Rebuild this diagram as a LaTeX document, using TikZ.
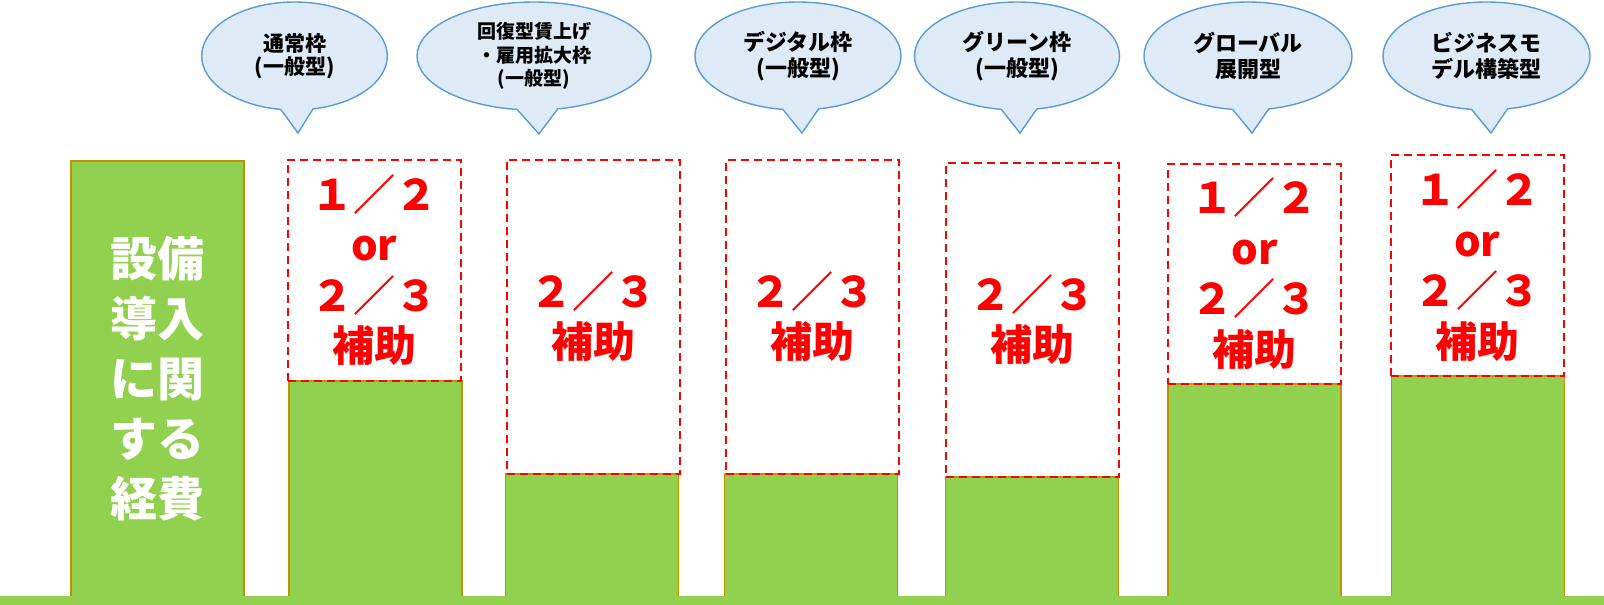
\documentclass[tikz,border=0pt]{standalone}
\usepackage{fontspec}
\newfontfamily\jp{Noto Sans CJK JP}
\usetikzlibrary{shapes.callouts}
\definecolor{barfill}{HTML}{92D050}
\definecolor{barline}{HTML}{BF9000}
\definecolor{bubfill}{HTML}{DEEBF7}
\definecolor{bubline}{HTML}{5B9BD5}
\definecolor{redzero}{HTML}{FF0000}
\begin{document}
\begin{tikzpicture}[x=1pt,y=-1pt,
  bar/.style={fill=barfill,draw=barline,line width=1.8pt,inner sep=0pt,outer sep=0pt,anchor=north west},
  ratebox/.style={draw=redzero,line width=2pt,dash pattern=on 8pt off 5pt,inner sep=0pt,outer sep=0pt,anchor=north west,
    align=center,text=redzero,font=\jp\bfseries\fontsize{42}{50.5}\selectfont},
  bubble/.style={ellipse callout,fill=bubfill,draw=bubline,line width=1.4pt,inner sep=0pt,align=center,
    callout pointer arc=20,font=\jp\bfseries\fontsize{22}{26}\selectfont},
]
\fill[white] (0,0) rectangle (1604,605);
\useasboundingbox (0,0) rectangle (1604,605);

% green bars
\node[bar,minimum width=173.6pt,minimum height=436pt,text=white,align=center,
  font=\jp\bfseries\fontsize{47}{60}\selectfont] (cost) at (70.7,160.7) {設備\\導入\\に関\\する\\経費};
\node[bar,minimum width=173pt,minimum height=216pt] (g1) at (288.7,380.7) {};
\node[bar,minimum width=173pt,minimum height=123pt] (g2) at (505.5,473.7) {};
\node[bar,minimum width=173pt,minimum height=123pt] (g3) at (724.5,473.7) {};
\node[bar,minimum width=173pt,minimum height=120pt] (g4) at (945.5,476.7) {};
\node[bar,minimum width=173pt,minimum height=213pt] (g5) at (1168,383.7) {};
\node[bar,minimum width=173pt,minimum height=221pt] (g6) at (1391.5,375.7) {};

% ground
\fill[barfill] (0,596) rectangle (1604,605);

% dashed rate boxes
\node[ratebox,minimum width=172.7pt,minimum height=221pt] (r1) at (288,159.7) {１／２\\or\\２／３\\補助};
\node[ratebox,minimum width=173.3pt,minimum height=314pt] (r2) at (506.7,159.7) {２／３\\補助};
\node[ratebox,minimum width=173pt,minimum height=314pt] (r3) at (726,159.7) {２／３\\補助};
\node[ratebox,minimum width=173pt,minimum height=314pt] (r4) at (946,162.7) {２／３\\補助};
\node[ratebox,minimum width=173pt,minimum height=220pt] (r5) at (1168,163.7) {１／２\\or\\２／３\\補助};
\node[ratebox,minimum width=173.3pt,minimum height=220.4pt] (r6) at (1390.7,155.3) {１／２\\or\\２／３\\補助};

% callouts
\node[bubble,minimum width=185.6pt,minimum height=108pt,callout absolute pointer={(298,133)},
  font=\jp\bfseries\fontsize{21}{23}\selectfont] (b1) at (294.5,56) {通常枠\\(一般型)};
\node[bubble,minimum width=234pt,minimum height=108pt,callout absolute pointer={(539,134)},
  font=\jp\bfseries\fontsize{19}{23.5}\selectfont] (b2) at (534,56) {回復型賃上げ\\・雇用拡大枠\\(一般型)};
\node[bubble,minimum width=206pt,minimum height=108pt,callout absolute pointer={(802,133)}] (b3) at (798,56) {デジタル枠\\(一般型)};
\node[bubble,minimum width=205pt,minimum height=108pt,callout absolute pointer={(1020,133)}] (b4) at (1017,56) {グリーン枠\\(一般型)};
\node[bubble,minimum width=208pt,minimum height=108pt,callout absolute pointer={(1252,133)}] (b5) at (1248,56) {グローバル\\展開型};
\node[bubble,minimum width=207pt,minimum height=108pt,callout absolute pointer={(1491,133)}] (b6) at (1486.5,56) {ビジネスモ\\デル構築型};
\end{tikzpicture}
\end{document}
